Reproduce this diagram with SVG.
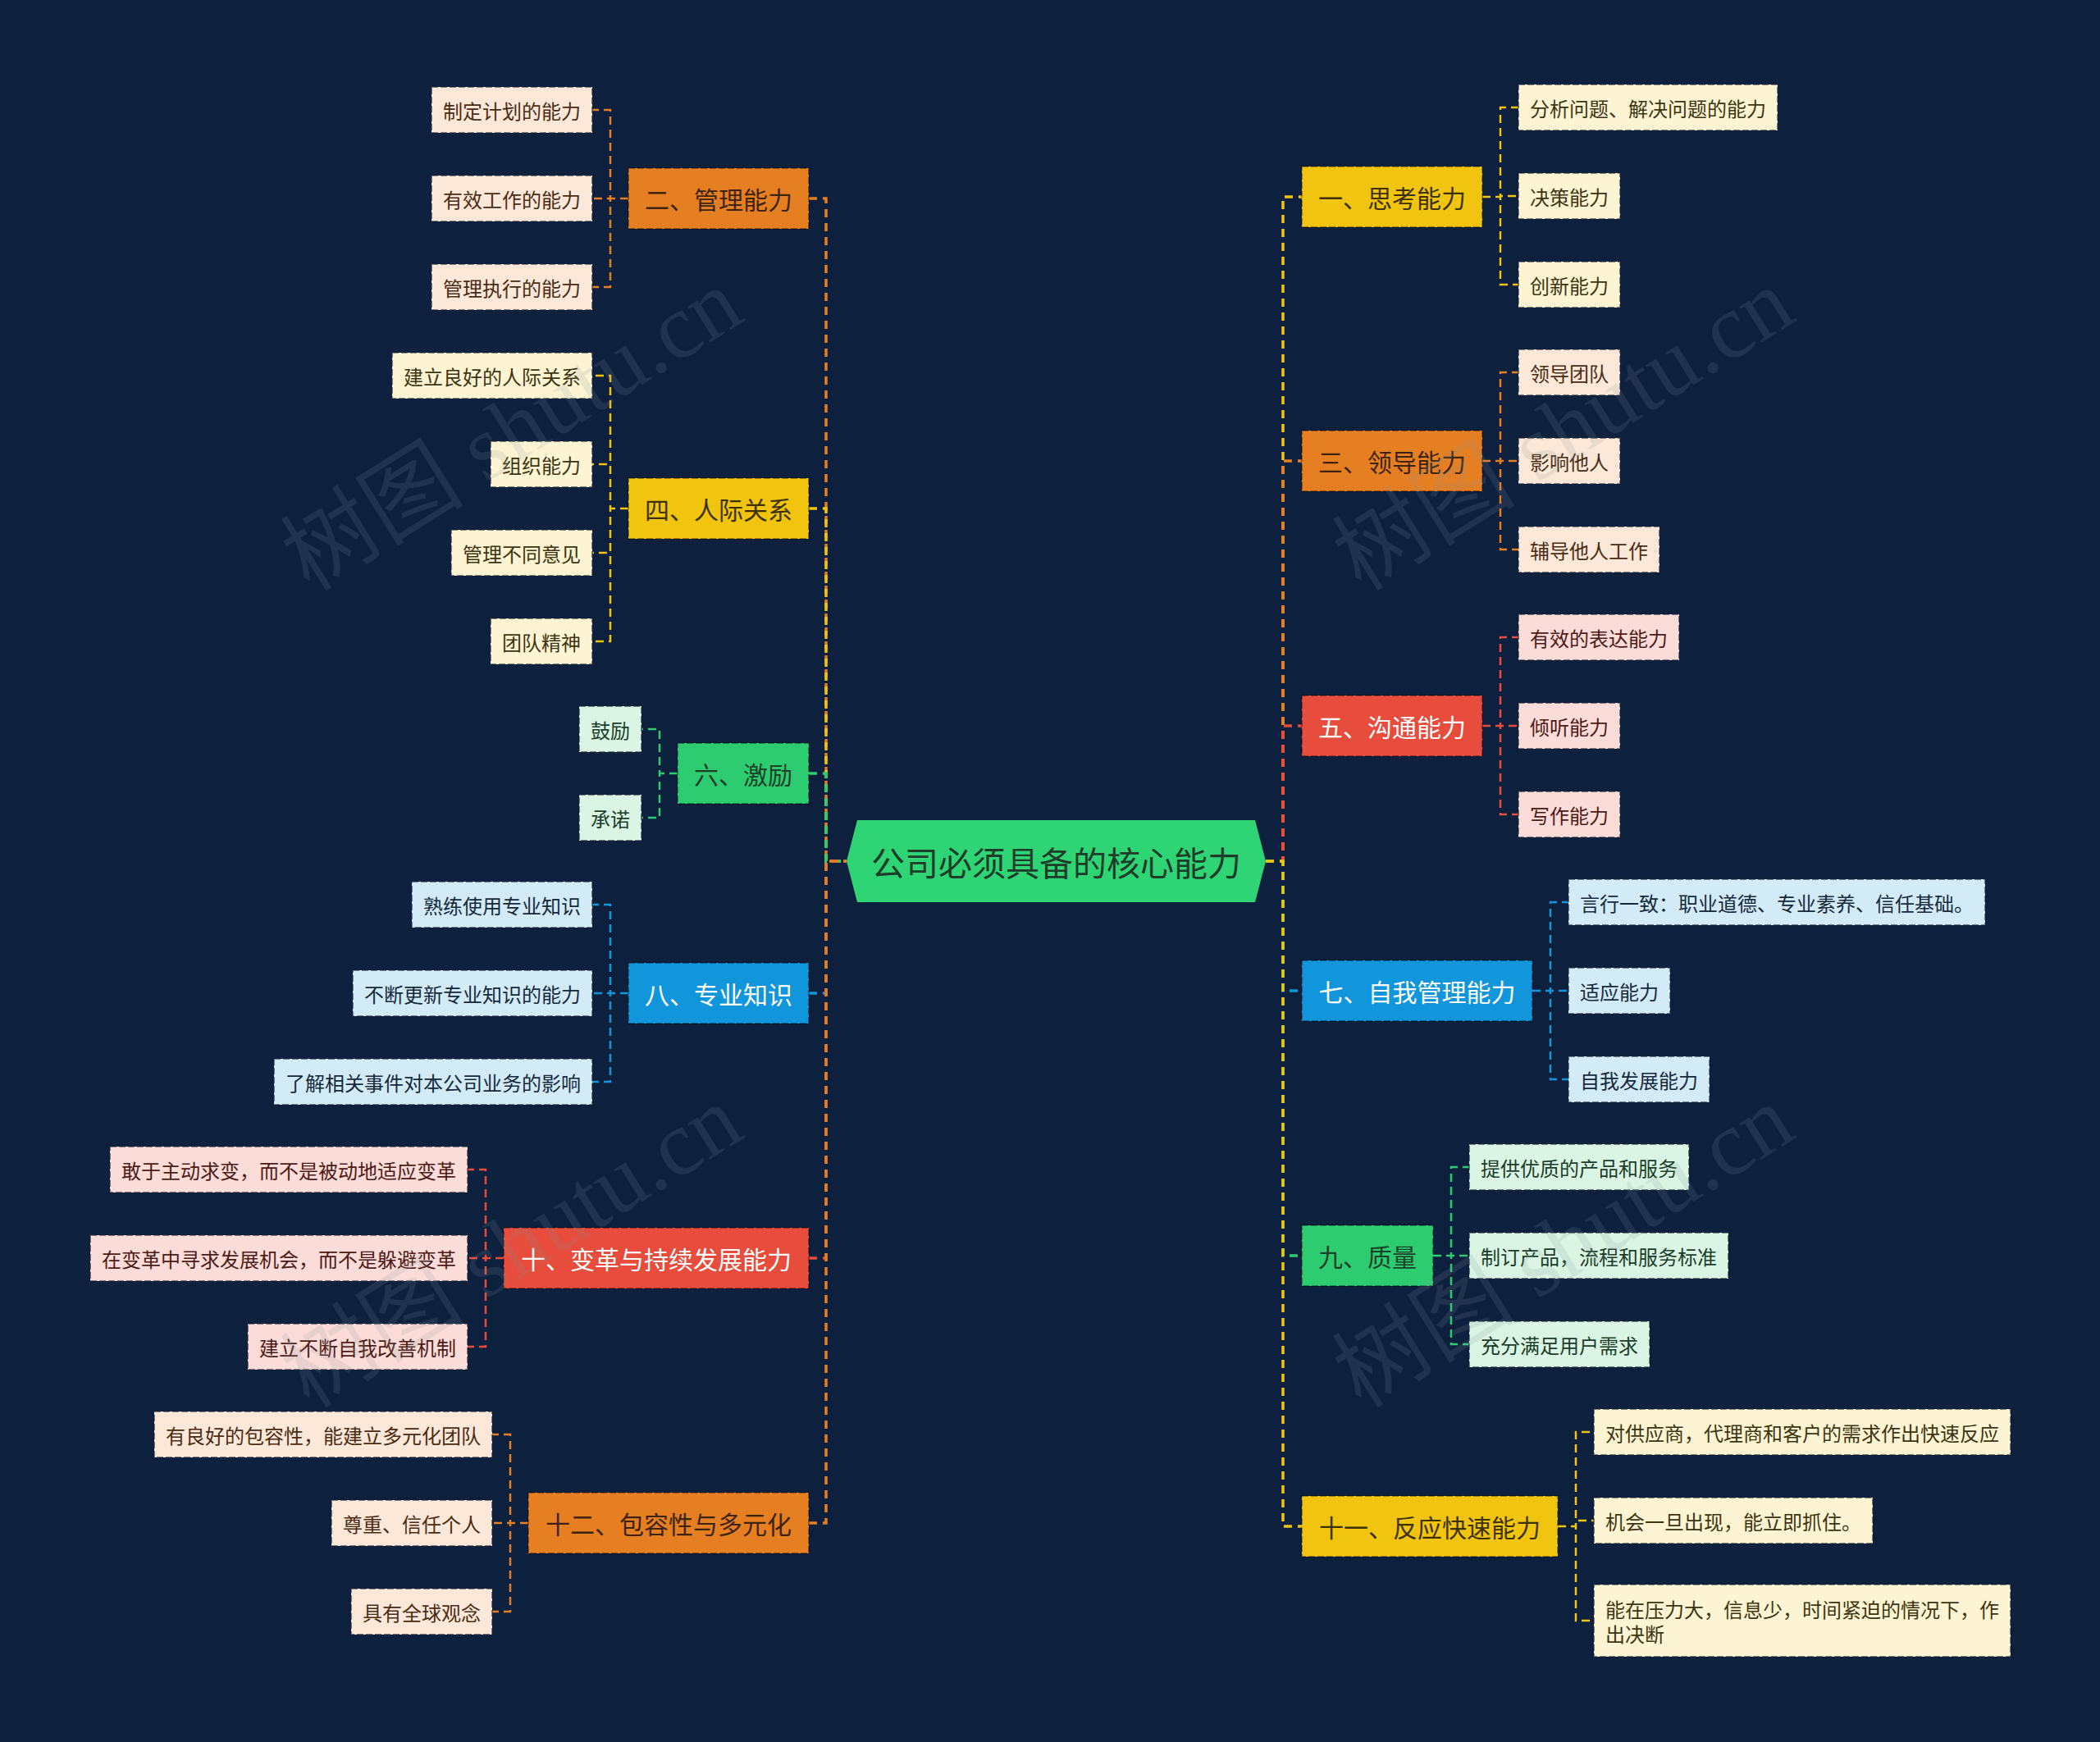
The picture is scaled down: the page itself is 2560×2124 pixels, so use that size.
<svg xmlns="http://www.w3.org/2000/svg" width="2560" height="2124" viewBox="0 0 2560 2124">
<style>
text{font-family:"Noto Sans CJK SC","Noto Sans",sans-serif;dominant-baseline:central}
.c{fill:none;stroke-width:2.5;stroke-dasharray:10 6}
.m{fill:none;stroke-width:3.5;stroke-dasharray:10 7}
.o{stroke:#e67e22}.y{stroke:#f1c40f}.g{stroke:#2ecc71}.b{stroke:#1296db}.r{stroke:#e74c3c}
.br{stroke:#000;stroke-opacity:.35;stroke-width:2;stroke-dasharray:8 3}
.lf{stroke:#1a2233;stroke-opacity:.55;stroke-width:2;stroke-dasharray:8 3}
.bt{font-size:30px;text-anchor:middle}
.lt{font-size:24px;text-anchor:middle}
.ls{font-size:24px;text-anchor:start}
.bo{fill:#e67e22}.by{fill:#f1c40f}.bg{fill:#2ecc71}.bb{fill:#1296db}.bR{fill:#e74c3c}
.to{fill:#3d2410}.ty{fill:#3d3100}.tg{fill:#1a4027}.tw{fill:#ffffff}
.lo{fill:#fce8d8}.ly{fill:#fdf4d3}.lg{fill:#daf5e4}.lb{fill:#d3ebf7}.lr{fill:#fbdcd8}
.xo{fill:#4a2c14}.xy{fill:#3d3511}.xg{fill:#1b3d29}.xb{fill:#15293d}.xr{fill:#4d1a16}
.wm{font-family:"Liberation Serif","Noto Sans CJK SC",serif;font-size:112px;fill:#8a9499;fill-opacity:.16;text-anchor:middle;dominant-baseline:auto}
</style>
<rect width="2560" height="2124" fill="#0d203e"/>
<g id="connectors">
<path class="m y" d="M1543 1050H1564V240H1587"/>
<path class="c y" d="M1807 240H1829V131H1851M1807 240H1829V239H1851M1807 240H1829V347H1851"/>
<path class="m o" d="M986 242H1007V1050H1032"/>
<path class="c o" d="M766 242H744V134H722M766 242H744V242H722M766 242H744V350H722"/>
<path class="m o" d="M1543 1050H1564V562H1587"/>
<path class="c o" d="M1807 562H1829V454H1851M1807 562H1829V562H1851M1807 562H1829V670H1851"/>
<path class="m y" d="M986 620H1007V1050H1032"/>
<path class="c y" d="M766 620H744V458H722M766 620H744V566H722M766 620H744V674H722M766 620H744V782H722"/>
<path class="m r" d="M1543 1050H1564V885H1587"/>
<path class="c r" d="M1807 885H1829V777H1851M1807 885H1829V885H1851M1807 885H1829V993H1851"/>
<path class="m g" d="M986 943H1007V1050H1032"/>
<path class="c g" d="M826 943H804V889H782M826 943H804V997H782"/>
<path class="m b" d="M1543 1050H1564V1208H1587"/>
<path class="c b" d="M1868 1208H1890V1100H1912M1868 1208H1890V1208H1912M1868 1208H1890V1316H1912"/>
<path class="m b" d="M986 1211H1007V1050H1032"/>
<path class="c b" d="M766 1211H744V1103H722M766 1211H744V1211H722M766 1211H744V1319H722"/>
<path class="m g" d="M1543 1050H1564V1531H1587"/>
<path class="c g" d="M1747 1531H1769V1423H1791M1747 1531H1769V1531H1791M1747 1531H1769V1639H1791"/>
<path class="m r" d="M986 1534H1007V1050H1032"/>
<path class="c r" d="M614 1534H592V1426H570M614 1534H592V1534H570M614 1534H592V1642H570"/>
<path class="m y" d="M1543 1050H1564V1861H1587"/>
<path class="c y" d="M1899 1861H1921V1746H1943M1899 1861H1921V1854H1943M1899 1861H1921V1976H1943"/>
<path class="m o" d="M986 1857H1007V1050H1032"/>
<path class="c o" d="M644 1857H622V1749H600M644 1857H622V1857H600M644 1857H622V1965H600"/>
</g>

<g id="root">
<polygon points="1032,1050 1045,1000 1530,1000 1543,1050 1530,1100 1045,1100" fill="#2fd474"/>
<text x="1287.5" y="1050" font-size="41" text-anchor="middle" fill="#1d3d2a">公司必须具备的核心能力</text>
</g>

<g id="n1"><rect class="by br" x="1587" y="203" width="220" height="74"/><text class="bt ty" x="1697" y="240">一、思考能力</text></g>
<g id="n1a"><rect class="ly lf" x="1851" y="103" width="316" height="56"/><text class="lt xy" x="2009" y="131">分析问题、解决问题的能力</text></g>
<g id="n1b"><rect class="ly lf" x="1851" y="211" width="124" height="56"/><text class="lt xy" x="1913" y="239">决策能力</text></g>
<g id="n1c"><rect class="ly lf" x="1851" y="319" width="124" height="56"/><text class="lt xy" x="1913" y="347">创新能力</text></g>

<g id="n3"><rect class="bo br" x="1587" y="525" width="220" height="74"/><text class="bt to" x="1697" y="562">三、领导能力</text></g>
<g id="n3a"><rect class="lo lf" x="1851" y="426" width="124" height="56"/><text class="lt xo" x="1913" y="454">领导团队</text></g>
<g id="n3b"><rect class="lo lf" x="1851" y="534" width="124" height="56"/><text class="lt xo" x="1913" y="562">影响他人</text></g>
<g id="n3c"><rect class="lo lf" x="1851" y="642" width="172" height="56"/><text class="lt xo" x="1937" y="670">辅导他人工作</text></g>

<g id="n5"><rect class="bR br" x="1587" y="848" width="220" height="74"/><text class="bt tw" x="1697" y="885">五、沟通能力</text></g>
<g id="n5a"><rect class="lr lf" x="1851" y="749" width="196" height="56"/><text class="lt xr" x="1949" y="777">有效的表达能力</text></g>
<g id="n5b"><rect class="lr lf" x="1851" y="857" width="124" height="56"/><text class="lt xr" x="1913" y="885">倾听能力</text></g>
<g id="n5c"><rect class="lr lf" x="1851" y="965" width="124" height="56"/><text class="lt xr" x="1913" y="993">写作能力</text></g>

<g id="n7"><rect class="bb br" x="1587" y="1171" width="281" height="74"/><text class="bt tw" x="1727.5" y="1208">七、自我管理能力</text></g>
<g id="n7a"><rect class="lb lf" x="1912" y="1072" width="508" height="56"/><text class="lt xb" x="2166" y="1100">言行一致：职业道德、专业素养、信任基础。</text></g>
<g id="n7b"><rect class="lb lf" x="1912" y="1180" width="124" height="56"/><text class="lt xb" x="1974" y="1208">适应能力</text></g>
<g id="n7c"><rect class="lb lf" x="1912" y="1288" width="172" height="56"/><text class="lt xb" x="1998" y="1316">自我发展能力</text></g>

<g id="n9"><rect class="bg br" x="1587" y="1494" width="160" height="74"/><text class="bt tg" x="1667" y="1531">九、质量</text></g>
<g id="n9a"><rect class="lg lf" x="1791" y="1395" width="268" height="56"/><text class="lt xg" x="1925" y="1423">提供优质的产品和服务</text></g>
<g id="n9b"><rect class="lg lf" x="1791" y="1503" width="316" height="56"/><text class="lt xg" x="1949" y="1531">制订产品，流程和服务标准</text></g>
<g id="n9c"><rect class="lg lf" x="1791" y="1611" width="220" height="56"/><text class="lt xg" x="1901" y="1639">充分满足用户需求</text></g>

<g id="n11"><rect class="by br" x="1587" y="1824" width="312" height="74"/><text class="bt ty" x="1743" y="1861">十一、反应快速能力</text></g>
<g id="n11a"><rect class="ly lf" x="1943" y="1718" width="508" height="56"/><text class="lt xy" x="2197" y="1746">对供应商，代理商和客户的需求作出快速反应</text></g>
<g id="n11b"><rect class="ly lf" x="1943" y="1826" width="340" height="56"/><text class="lt xy" x="2113" y="1854">机会一旦出现，能立即抓住。</text></g>
<g id="n11c"><rect class="ly lf" x="1943" y="1932" width="508" height="88"/><text class="ls xy" x="1957" y="1961">能在压力大，信息少，时间紧迫的情况下，作</text><text class="ls xy" x="1957" y="1991">出决断</text></g>

<g id="n2"><rect class="bo br" x="766" y="205" width="220" height="74"/><text class="bt to" x="876" y="242">二、管理能力</text></g>
<g id="n2a"><rect class="lo lf" x="526" y="106" width="196" height="56"/><text class="lt xo" x="624" y="134">制定计划的能力</text></g>
<g id="n2b"><rect class="lo lf" x="526" y="214" width="196" height="56"/><text class="lt xo" x="624" y="242">有效工作的能力</text></g>
<g id="n2c"><rect class="lo lf" x="526" y="322" width="196" height="56"/><text class="lt xo" x="624" y="350">管理执行的能力</text></g>

<g id="n4"><rect class="by br" x="766" y="583" width="220" height="74"/><text class="bt ty" x="876" y="620">四、人际关系</text></g>
<g id="n4a"><rect class="ly lf" x="478" y="430" width="244" height="56"/><text class="lt xy" x="600" y="458">建立良好的人际关系</text></g>
<g id="n4b"><rect class="ly lf" x="598" y="538" width="124" height="56"/><text class="lt xy" x="660" y="566">组织能力</text></g>
<g id="n4c"><rect class="ly lf" x="550" y="646" width="172" height="56"/><text class="lt xy" x="636" y="674">管理不同意见</text></g>
<g id="n4d"><rect class="ly lf" x="598" y="754" width="124" height="56"/><text class="lt xy" x="660" y="782">团队精神</text></g>

<g id="n6"><rect class="bg br" x="826" y="906" width="160" height="74"/><text class="bt tg" x="906" y="943">六、激励</text></g>
<g id="n6a"><rect class="lg lf" x="706" y="861" width="76" height="56"/><text class="lt xg" x="744" y="889">鼓励</text></g>
<g id="n6b"><rect class="lg lf" x="706" y="969" width="76" height="56"/><text class="lt xg" x="744" y="997">承诺</text></g>

<g id="n8"><rect class="bb br" x="766" y="1174" width="220" height="74"/><text class="bt tw" x="876" y="1211">八、专业知识</text></g>
<g id="n8a"><rect class="lb lf" x="502" y="1075" width="220" height="56"/><text class="lt xb" x="612" y="1103">熟练使用专业知识</text></g>
<g id="n8b"><rect class="lb lf" x="430" y="1183" width="292" height="56"/><text class="lt xb" x="576" y="1211">不断更新专业知识的能力</text></g>
<g id="n8c"><rect class="lb lf" x="334" y="1291" width="388" height="56"/><text class="lt xb" x="528" y="1319">了解相关事件对本公司业务的影响</text></g>

<g id="n10"><rect class="bR br" x="614" y="1497" width="372" height="74"/><text class="bt tw" x="800" y="1534">十、变革与持续发展能力</text></g>
<g id="n10a"><rect class="lr lf" x="134" y="1398" width="436" height="56"/><text class="lt xr" x="352" y="1426">敢于主动求变，而不是被动地适应变革</text></g>
<g id="n10b"><rect class="lr lf" x="110" y="1506" width="460" height="56"/><text class="lt xr" x="340" y="1534">在变革中寻求发展机会，而不是躲避变革</text></g>
<g id="n10c"><rect class="lr lf" x="302" y="1614" width="268" height="56"/><text class="lt xr" x="436" y="1642">建立不断自我改善机制</text></g>

<g id="n12"><rect class="bo br" x="644" y="1820" width="342" height="74"/><text class="bt to" x="815" y="1857">十二、包容性与多元化</text></g>
<g id="n12a"><rect class="lo lf" x="188" y="1721" width="412" height="56"/><text class="lt xo" x="394" y="1749">有良好的包容性，能建立多元化团队</text></g>
<g id="n12b"><rect class="lo lf" x="404" y="1829" width="196" height="56"/><text class="lt xo" x="502" y="1857">尊重、信任个人</text></g>
<g id="n12c"><rect class="lo lf" x="428" y="1937" width="172" height="56"/><text class="lt xo" x="514" y="1965">具有全球观念</text></g>

<g id="watermark">
<text class="wm" transform="translate(644,556) rotate(-32)">树图 shutu.cn</text>
<text class="wm" transform="translate(1926,556) rotate(-32)">树图 shutu.cn</text>
<text class="wm" transform="translate(644,1552) rotate(-32)">树图 shutu.cn</text>
<text class="wm" transform="translate(1926,1552) rotate(-32)">树图 shutu.cn</text>
</g>
</svg>
